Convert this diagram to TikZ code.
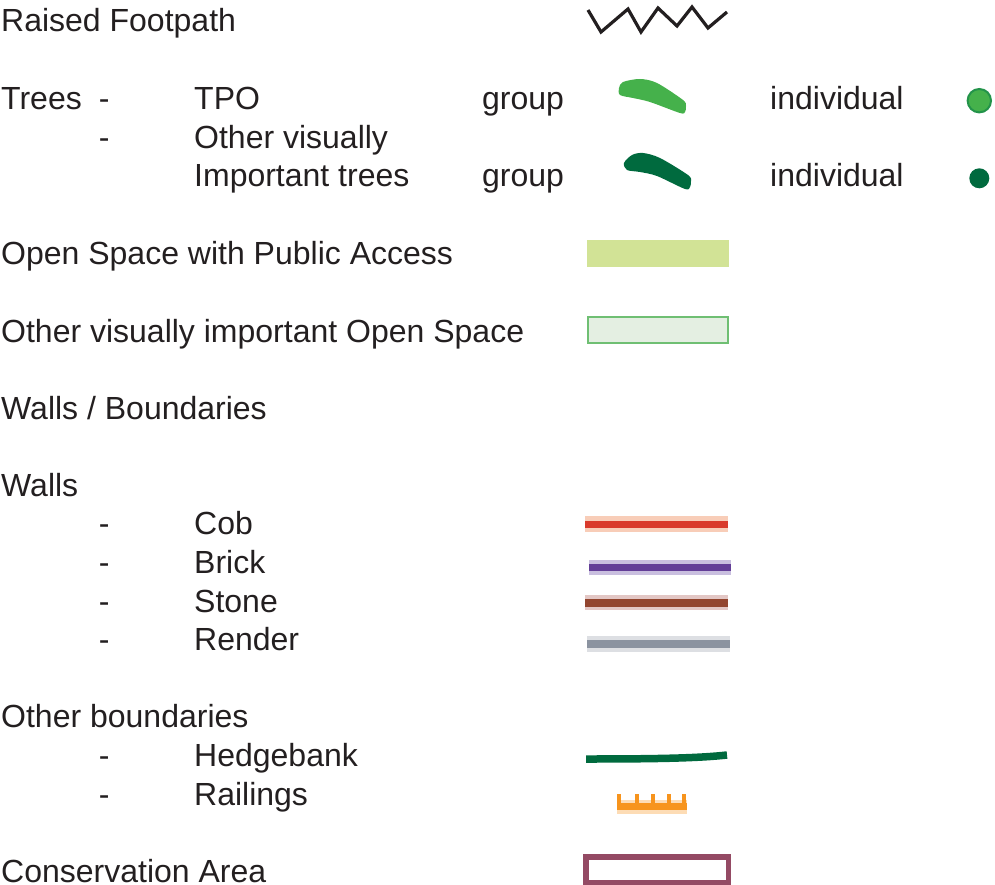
\documentclass[tikz,border=0pt]{standalone}
\usepackage{fontspec}
\setmainfont{Liberation Sans}
\definecolor{txt}{HTML}{231F20}
\definecolor{tpo}{HTML}{45B14B}
\definecolor{tpoedge}{HTML}{23934A}
\definecolor{vit}{HTML}{006A3E}
\definecolor{openpub}{HTML}{D2E396}
\definecolor{openvis}{HTML}{E4EFE2}
\definecolor{openvisedge}{HTML}{6FBF73}
\definecolor{cob}{HTML}{D93A2B}
\definecolor{cobhalo}{HTML}{F8CDB8}
\definecolor{brick}{HTML}{633E97}
\definecolor{brickhalo}{HTML}{C9BFDF}
\definecolor{stone}{HTML}{93452F}
\definecolor{stonehalo}{HTML}{E3C7C5}
\definecolor{render}{HTML}{8B93A0}
\definecolor{renderhalo}{HTML}{DDDFE3}
\definecolor{rail}{HTML}{F7941D}
\definecolor{railhalo}{HTML}{FDDCB5}
\definecolor{consarea}{HTML}{944A64}
\begin{document}
\begin{tikzpicture}[x=1pt,y=-1pt,
  lbl/.style={anchor=base west, inner sep=0pt, text=txt, font=\fontsize{32}{38}\selectfont}]
\useasboundingbox (0,0) rectangle (995,885);
% labels
\node[lbl] (raised) at (1,32) {Raised Footpath};
\node[lbl] (trees) at (1,110) {Trees};
\node[lbl] (dtpo) at (98.7,110) {-};
\node[lbl] (tpo) at (194,110) {TPO};
\node[lbl] (gtpo) at (482,110) {group};
\node[lbl] (itpo) at (770,110) {individual};
\node[lbl] (dvis) at (98.7,148.5) {-};
\node[lbl] (vis1) at (194,148.5) {Other visually};
\node[lbl] (vis2) at (194,187) {Important trees};
\node[lbl] (gvis) at (482,187) {group};
\node[lbl] (ivis) at (770,187) {individual};
\node[lbl] (openpub) at (1,265) {Open Space with Public Access};
\node[lbl] (openvis) at (1,342) {Other visually important Open Space};
\node[lbl] (wallsb) at (1,419) {Walls / Boundaries};
\node[lbl] (walls) at (1,496) {Walls};
\node[lbl] (dcob) at (98.7,534) {-};
\node[lbl] (cob) at (194,534) {Cob};
\node[lbl] (dbrick) at (98.7,573) {-};
\node[lbl] (brick) at (194,573) {Brick};
\node[lbl] (dstone) at (98.7,612) {-};
\node[lbl] (stone) at (194,612) {Stone};
\node[lbl] (drender) at (98.7,650) {-};
\node[lbl] (render) at (194,650) {Render};
\node[lbl] (other) at (1,727) {Other boundaries};
\node[lbl] (dhedge) at (98.7,766) {-};
\node[lbl] (hedge) at (194,766) {Hedgebank};
\node[lbl] (drail) at (98.7,805) {-};
\node[lbl] (rail) at (194,805) {Railings};
\node[lbl] (cons) at (1,882) {Conservation Area};
% raised footpath
\path[draw,line width=3.2pt,txt] (588,10) -- (601,32) -- (628,9) -- (641,32) -- (658,8) -- (677,26) -- (692,7) -- (708,28) -- (727,12);
% trees
\fill[tpo] plot[smooth cycle,tension=0.5] coordinates {(623,82) (640,79) (657,83) (683,100) (686,106) (685,112) (680,113) (650,102) (633,98) (620,95) (619,88)};
\fill[vit] plot[smooth cycle,tension=0.5] coordinates {(632,155) (643,153) (660,158) (688,175) (691,181) (690,187) (685,189) (657,176) (640,172) (627,170) (624,163)};
\path[draw,line width=2pt,tpoedge,fill=tpo] (979.3,100.7) circle (11.7);
\fill[vit] (979.3,178.3) circle (10);
% open space
\fill[openpub] (587,240) rectangle (729,267);
\path[draw,line width=2.5pt,openvisedge,fill=openvis] (588.2,317.2) rectangle (727.8,342.8);
% walls
\path[draw,line width=16pt,cobhalo] (585,524) -- (728,524);
\path[draw,line width=7pt,cob] (585,524) -- (728,524);
\path[draw,line width=15pt,brickhalo] (589,567.5) -- (731,567.5);
\path[draw,line width=7.5pt,brick] (589,567.5) -- (731,567.5);
\path[draw,line width=15pt,stonehalo] (585,602.5) -- (728,602.5);
\path[draw,line width=8pt,stone] (585,602.5) -- (728,602.5);
\path[draw,line width=16pt,renderhalo] (587,644) -- (730,644);
\path[draw,line width=7.5pt,render] (587,644) -- (730,644);
% other boundaries
\path[draw,line width=7.5pt,vit] (586,759) .. controls (660,759) and (700,758) .. (727,755);
\fill[railhalo] (617,800) rectangle (687,814);
\fill[rail] (617,803) rectangle (687,810);
\foreach \px in {619,637,653,669,684}
  \fill[rail] ({\px-1.7},794) rectangle ({\px+1.7},804);
\path[draw,line width=5.5pt,consarea] (586,857) rectangle (728.5,882.5);
\end{tikzpicture}
\end{document}
